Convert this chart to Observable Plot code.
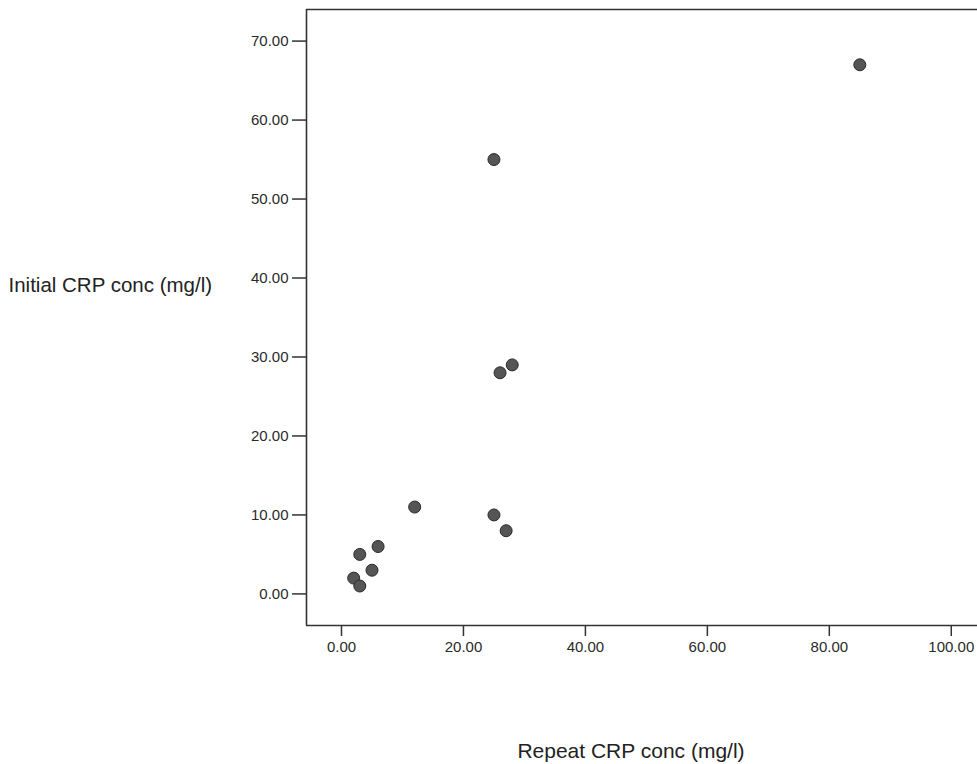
<!DOCTYPE html>
<html>
<head>
<meta charset="utf-8">
<script src="https://cdn.jsdelivr.net/npm/d3@7"></script>
<script src="https://cdn.jsdelivr.net/npm/@observablehq/plot@0.6"></script>
<style>
  html, body { margin: 0; padding: 0; background: #fff; overflow: hidden; }
  #chart svg { display: block; }
</style>
</head>
<body>
<div id="chart"></div>
<script>
// Data
const repeatCRP  = [85, 25, 28, 26, 12, 25, 27, 6, 3, 5, 2, 3];
const initialCRP = [67, 55, 29, 28, 11, 10, 8, 6, 5, 3, 2, 1];
const xTicks = [0, 20, 40, 60, 80, 100];
const yTicks = [0, 10, 20, 30, 40, 50, 60, 70];
const xLabel = "Repeat CRP conc (mg/l)";
const yLabel = "Initial CRP conc (mg/l)";

const data = repeatCRP.map((x, i) => ({x, y: initialCRP[i]}));
const xDomain = [-5.74, 104.3];
const yDomain = [-4, 74];
const fmt = d3.format(".2f");
const lineColor = "#333";

const plot = Plot.plot({
  width: 977,
  height: 764,
  marginTop: 9,
  marginBottom: 139,
  marginLeft: 306,
  marginRight: 0,
  style: {fontFamily: "'Liberation Sans', Arial, sans-serif", color: "#2a2a2a", background: "#fff"},
  x: {domain: xDomain, ticks: xTicks, tickFormat: fmt, label: null},
  y: {domain: yDomain, ticks: yTicks, tickFormat: fmt, label: null},
  marks: [
    Plot.axisX({ticks: xTicks, tickFormat: fmt, tickSize: 11, tickPadding: 5, fontSize: 15, stroke: lineColor, strokeWidth: 1.5, label: null}),
    Plot.axisY({ticks: yTicks, tickFormat: fmt, tickSize: 14, tickPadding: 4, fontSize: 15, stroke: lineColor, strokeWidth: 1.5, label: null}),
    Plot.ruleX([xDomain[0]], {stroke: lineColor, strokeWidth: 1.6}),
    Plot.ruleY([yDomain[0], yDomain[1]], {stroke: lineColor, strokeWidth: 1.6}),
    Plot.dot(data, {x: "x", y: "y", r: 6, fill: "#555", stroke: "#2a2a2a", strokeWidth: 1}),
    Plot.text([yLabel], {frameAnchor: "left", textAnchor: "start", dx: -298, dy: -32, fontSize: 20.5, fill: "#222"}),
    Plot.text([xLabel], {frameAnchor: "bottom", dx: -11, dy: 132, fontSize: 21, fill: "#222"})
  ]
});
document.getElementById("chart").appendChild(plot);
</script>
</body>
</html>
